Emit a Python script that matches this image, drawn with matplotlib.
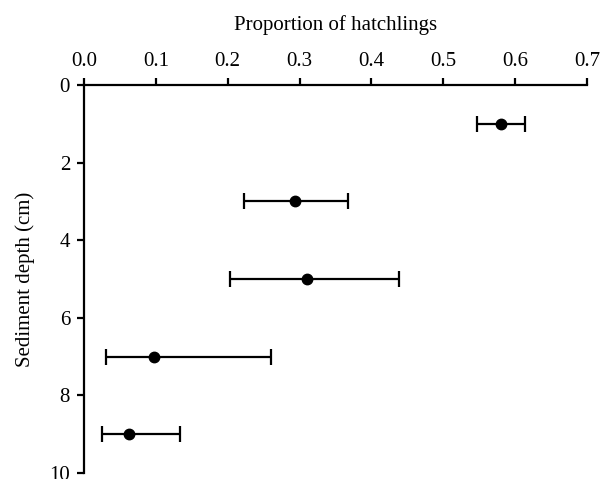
import numpy as np
import matplotlib
matplotlib.use('Agg')
import matplotlib.pyplot as plt

# proportion of hatchlings by sediment depth
depth = [1, 3, 5, 7, 9]
proportion = [0.580, 0.293, 0.310, 0.097, 0.062]
lower = [0.547, 0.223, 0.203, 0.030, 0.025]
upper = [0.614, 0.368, 0.438, 0.260, 0.133]

plt.rcParams['font.family'] = ['Liberation Serif', 'DejaVu Serif']

prop = np.array(proportion)
xerr = [prop - np.array(lower), np.array(upper) - prop]

fig = plt.figure(figsize=(6.11, 4.79), dpi=100)
ax = fig.add_axes([84 / 611, 1 - 473 / 479, (587 - 84) / 611, (473 - 85) / 479])

ax.errorbar(prop, depth, xerr=xerr, fmt='o', color='black', markersize=7.5,
            ecolor='black', elinewidth=1.6, capsize=6, capthick=1.6)

ax.set_xlim(0, 0.7)
ax.set_ylim(10, 0)
ax.set_xticks(np.arange(0, 0.71, 0.1))
ax.set_xticklabels(['%.1f' % v for v in np.arange(0, 0.71, 0.1)])
ax.set_yticks([0, 2, 4, 6, 8, 10])

ax.xaxis.tick_top()
ax.xaxis.set_label_position('top')
ax.spines['right'].set_visible(False)
ax.spines['bottom'].set_visible(False)
ax.spines['top'].set_linewidth(1.6)
ax.spines['left'].set_linewidth(1.6)
ax.tick_params(axis='both', direction='out', length=5, width=1.6, labelsize=15, pad=5)

ax.set_xlabel('Proportion of hatchlings', fontsize=15, labelpad=16)
ax.set_ylabel('Sediment depth (cm)', fontsize=15, labelpad=10)

fig.savefig('out.png', dpi=100)
